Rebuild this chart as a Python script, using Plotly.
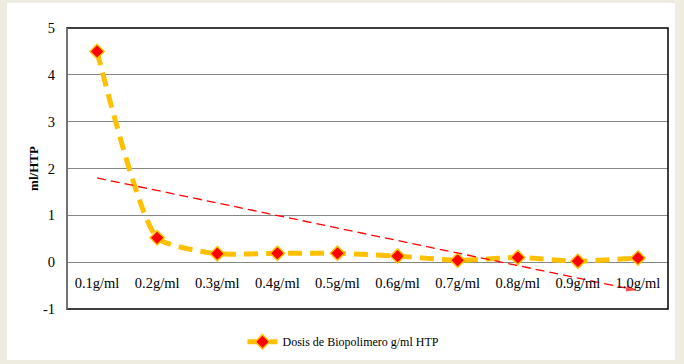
import numpy as np
import plotly.graph_objects as go

categories = ["0.1g/ml", "0.2g/ml", "0.3g/ml", "0.4g/ml", "0.5g/ml",
              "0.6g/ml", "0.7g/ml", "0.8g/ml", "0.9g/ml", "1.0g/ml"]
values = [4.5, 0.52, 0.18, 0.19, 0.19, 0.13, 0.04, 0.10, 0.02, 0.09]
series_name = "Dosis de Biopolimero g/ml HTP"
y_ticks = [-1, 0, 1, 2, 3, 4, 5]
y_tick_labels = ["-1", "0", "1", "2", "3", "4", "5"]

# linear trend line (Excel-style)
xi = np.arange(1, len(values) + 1)
slope, intercept = np.polyfit(xi, values, 1)
trend = list(slope * xi + intercept)

FONT = "Liberation Serif, Times New Roman, serif"

fig = go.Figure()
fig.add_trace(go.Scatter(
    x=categories, y=values, name=series_name, mode="lines+markers",
    line=dict(color="#FFC000", width=5, dash="14px,8px", shape="spline", smoothing=0.55),
    marker=dict(symbol="diamond", size=11, color="#FF0000",
                line=dict(color="#FFC000", width=1.5)),
))
fig.add_trace(go.Scatter(
    x=categories, y=trend, mode="lines+markers", showlegend=False,
    line=dict(color="#FF0000", width=1.3, dash="9px,5px"),
    marker=dict(symbol=["circle"] * (len(trend) - 1) + ["arrow"],
                size=[0] * (len(trend) - 1) + [13], angleref="previous",
                color="#FF0000"),
    hoverinfo="skip",
))
# invisible trace on second x axis to place category labels at y=0
fig.add_trace(go.Scatter(x=categories, y=[None] * len(categories), xaxis="x2",
                         showlegend=False, hoverinfo="skip"))

fig.update_layout(
    width=684, height=364,
    margin=dict(l=67, r=16, t=28, b=55, autoexpand=False),
    paper_bgcolor="#EEECE1", plot_bgcolor="white",
    font=dict(family=FONT, size=14.5, color="black"),
    xaxis=dict(type="category", range=[-0.5, 9.5], showticklabels=False,
               showgrid=False, zeroline=False, showline=False, ticks=""),
    xaxis2=dict(type="category", range=[-0.5, 9.5], overlaying="x",
                anchor="free", position=1/6, showgrid=False, zeroline=False,
                showline=False, ticks="", ticklabelstandoff=10,
                tickfont=dict(family=FONT, size=14.5)),
    yaxis=dict(range=[-1, 5], tickvals=y_ticks, ticktext=y_tick_labels,
               showgrid=True, gridcolor="#868686", gridwidth=1, zeroline=False,
               showline=False, ticks="", ticklabelstandoff=11, automargin=False,
               tickfont=dict(family=FONT, size=14.5),
               title=dict(text="<b>ml/HTP</b>", font=dict(family=FONT, size=13),
                          standoff=1)),
    legend=dict(orientation="h", x=0.46, xanchor="center", y=-0.065, yanchor="top",
                font=dict(family=FONT, size=12), bgcolor="rgba(0,0,0,0)"),
    showlegend=True,
    shapes=[
        dict(type="rect", xref="paper", yref="paper", x0=-0.0998, x1=1.0116,
             y0=-0.1815, y1=1.089, fillcolor="white", line=dict(width=0),
             layer="below"),
        dict(type="rect", xref="paper", yref="paper", x0=0, x1=1, y0=0, y1=1,
             line=dict(color="black", width=1.5), layer="above"),
        dict(type="line", xref="paper", yref="paper", x0=0, x1=0, y0=0, y1=1,
             line=dict(color="#868686", width=1.5), layer="above"),
    ],
)

fig.write_html("out.html", config={"displayModeBar": False},
               post_script="document.body.style.margin='0';document.body.style.padding='0';")
